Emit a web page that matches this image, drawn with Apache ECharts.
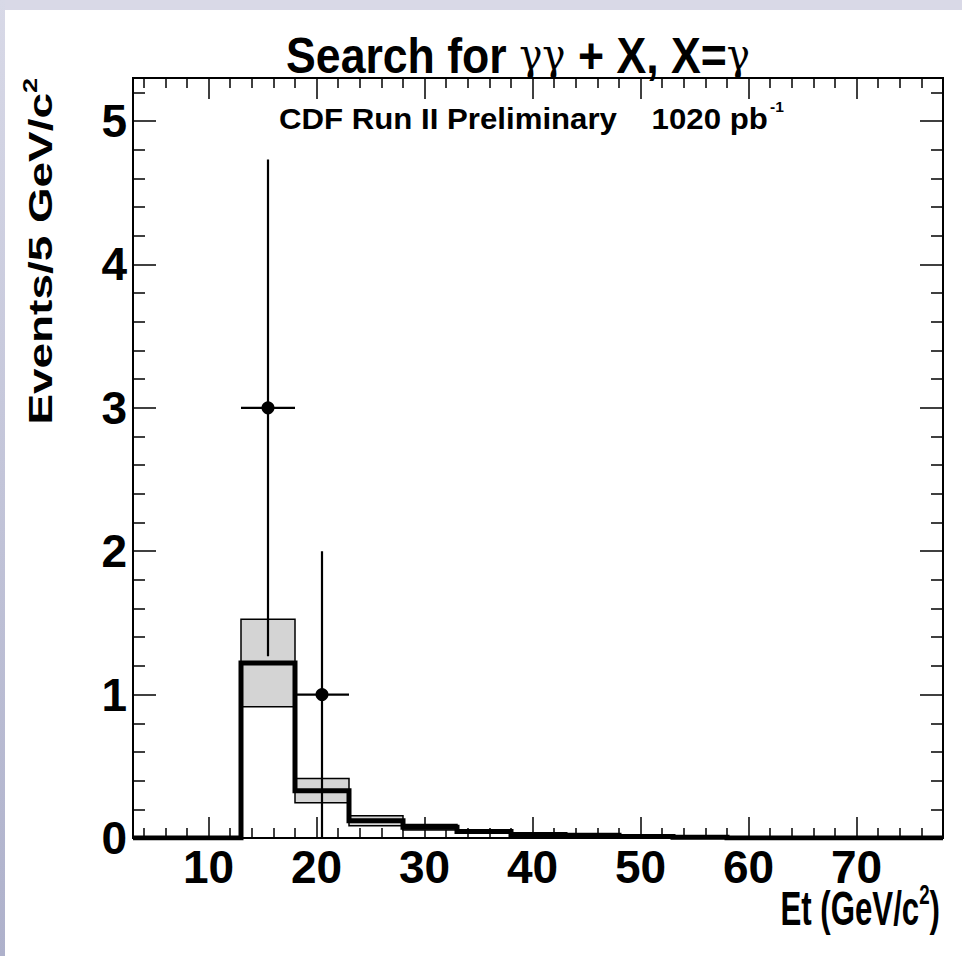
<!DOCTYPE html>
<html>
<head>
<meta charset="utf-8">
<script src="https://cdn.jsdelivr.net/npm/echarts@6/dist/echarts.min.js"></script>
<style>
html,body{margin:0;padding:0;background:#ffffff;}
#chart{width:962px;height:956px;}
</style>
</head>
<body>
<div id="chart"></div>
<script>
// ---- data ----
var binEdges = [3, 8, 13, 18, 23, 28, 33, 38, 43, 48, 53, 58, 63, 68, 73, 78];
var expected = [0, 0, 1.22, 0.33, 0.12, 0.075, 0.045, 0.025, 0.02, 0.01, 0.005, 0, 0, 0, 0];
var expectedErr = [0, 0, 0.305, 0.085, 0.035, 0.02, 0.01, 0.005, 0, 0, 0, 0, 0, 0, 0];
var dataX = [15.5, 20.5];
var dataY = [3, 1];
var dataErr = [1.732, 1];
var xMajorTicks = [10, 20, 30, 40, 50, 60, 70];
var yMajorTicks = [0, 1, 2, 3, 4, 5];

var X_MIN = 3, X_MAX = 78, Y_MIN = 0, Y_MAX = 5.3;
var xMinorTicks = [];
for (var v = 4; v < X_MAX; v += 2) { if (v % 10 !== 0) xMinorTicks.push(v); }
var yMinorTicks = [];
for (var k = 1; k <= 26; k++) { var t = Math.round(k * 2) / 10; if (Math.abs(t - Math.round(t)) > 1e-9) yMinorTicks.push(t); }

// histogram step line points
var stepData = binEdges.map(function (e, i) {
  return [e, i < expected.length ? expected[i] : expected[expected.length - 1]];
});
var bandData = expected.map(function (c, i) {
  return [binEdges[i], binEdges[i + 1], c, expectedErr[i]];
});
var pointData = dataX.map(function (x, i) {
  var hw = (binEdges[1] - binEdges[0]) / 2;
  return [x, dataY[i], dataErr[i], hw];
});

var chart = echarts.init(document.getElementById('chart'), null, { renderer: 'svg' });

var FONT = '"Liberation Sans", Arial, Helvetica, sans-serif';
var GRID = { left: 133, top: 78, right: 19, bottom: 118 };
var TICK_FONT = 46;

function mkX(pos, ticks, len, showLabel, showLine) {
  return {
    type: 'value', min: X_MIN, max: X_MAX, position: pos, gridIndex: 0,
    axisLine: { show: showLine, onZero: false, lineStyle: { color: '#000', width: 2 } },
    axisTick: { show: true, inside: true, length: len, customValues: ticks, lineStyle: { color: '#000', width: 1.5 } },
    axisLabel: showLabel ? { show: true, customValues: ticks, margin: 6, color: '#000', fontFamily: FONT, fontWeight: 'bold', fontSize: TICK_FONT } : { show: false },
    splitLine: { show: false }
  };
}
function mkY(pos, ticks, len, showLabel, showLine) {
  return {
    type: 'value', min: Y_MIN, max: Y_MAX, position: pos, gridIndex: 0,
    axisLine: { show: showLine, onZero: false, lineStyle: { color: '#000', width: 2 } },
    axisTick: { show: true, inside: true, length: len, customValues: ticks, lineStyle: { color: '#000', width: 1.5 } },
    axisLabel: showLabel ? { show: true, customValues: ticks, margin: 6, color: '#000', fontFamily: FONT, fontWeight: 'bold', fontSize: TICK_FONT } : { show: false },
    splitLine: { show: false }
  };
}

var option = {
  backgroundColor: '#ffffff',
  animation: false,
  grid: { left: GRID.left, top: GRID.top, right: GRID.right, bottom: GRID.bottom, show: true, borderColor: '#000', borderWidth: 2, backgroundColor: 'transparent' },
  xAxis: [
    mkX('bottom', xMajorTicks, 21, true, true),
    mkX('bottom', xMinorTicks, 10, false, false),
    mkX('top', xMajorTicks, 21, false, true),
    mkX('top', xMinorTicks, 10, false, false)
  ],
  yAxis: [
    mkY('left', yMajorTicks, 23, true, true),
    mkY('left', yMinorTicks, 12, false, false),
    mkY('right', yMajorTicks, 23, false, true),
    mkY('right', yMinorTicks, 12, false, false)
  ],
  graphic: [
    { type: 'rect', left: 0, top: 0, shape: { width: 962, height: 10 }, style: { fill: '#d9d9e7' }, z: 100 },
    { type: 'rect', left: 0, top: 0, shape: { width: 5, height: 956 },
      style: { fill: new echarts.graphic.LinearGradient(0, 0, 0, 1, [{ offset: 0, color: '#d8d9e7' }, { offset: 1, color: '#aeb1cb' }]) }, z: 100 },
    { type: 'text', x: 518, y: 55, z: 100, scaleX: 0.97, scaleY: 1.1,
      style: {
        text: '{b|Search for }{g|γγ}{b| + X, X=}{g|γ}',
        textAlign: 'center', textVerticalAlign: 'middle',
        rich: {
          b: { fontFamily: FONT, fontWeight: 'bold', fontSize: 46, color: '#000', fill: '#000' },
          g: { fontFamily: '"DejaVu Serif", "Liberation Serif", serif', fontWeight: 'normal', fontSize: 40, color: '#000', fill: '#000' }
        }
      } },
    { type: 'text', x: 279, y: 118, z: 100, scaleX: 1.04,
      style: {
        text: '{a|CDF Run II Preliminary    1020 pb}{s|-1}',
        textAlign: 'left', textVerticalAlign: 'middle',
        rich: {
          a: { fontFamily: FONT, fontWeight: 'bold', fontSize: 30, color: '#000', fill: '#000' },
          s: { fontFamily: FONT, fontWeight: 'bold', fontSize: 15, color: '#000', fill: '#000', verticalAlign: 'top', padding: [0, 0, 22, 2] }
        }
      } },
    { type: 'text', x: 940, y: 908, z: 100, scaleX: 0.78, scaleY: 1.18,
      style: {
        text: '{a|Et (GeV/c}{s|2}{a|)}',
        textAlign: 'right', textVerticalAlign: 'middle',
        rich: {
          a: { fontFamily: FONT, fontWeight: 'bold', fontSize: 40, color: '#000', fill: '#000' },
          s: { fontFamily: FONT, fontWeight: 'bold', fontSize: 24, color: '#000', fill: '#000', verticalAlign: 'top', padding: [0, 0, 24, 0] }
        }
      } },
    { type: 'text', x: 40, y: 78, rotation: Math.PI / 2, z: 100, scaleX: 1.35,
      style: {
        text: '{a|Events/5 GeV/c}{s|2}',
        textAlign: 'right', textVerticalAlign: 'middle',
        rich: {
          a: { fontFamily: FONT, fontWeight: 'bold', fontSize: 34, color: '#000', fill: '#000' },
          s: { fontFamily: FONT, fontWeight: 'bold', fontSize: 20, color: '#000', fill: '#000', verticalAlign: 'top', padding: [0, 0, 20, 0] }
        }
      } }
  ],
  series: [
    {
      type: 'custom', name: 'band', xAxisIndex: 0, yAxisIndex: 0, z: 2,
      data: bandData,
      renderItem: function (params, api) {
        var lo = api.value(0), hi = api.value(1), c = api.value(2), e = api.value(3);
        if (!(e > 0)) return null;
        var p1 = api.coord([lo, c + e]);
        var p2 = api.coord([hi, c - e]);
        return {
          type: 'rect',
          shape: { x: p1[0], y: p1[1], width: p2[0] - p1[0], height: p2[1] - p1[1] },
          style: { fill: '#d4d4d4', stroke: '#000', lineWidth: 1.5 }
        };
      }
    },
    {
      type: 'line', name: 'expected', xAxisIndex: 0, yAxisIndex: 0, z: 3,
      step: 'end', symbol: 'none', data: stepData,
      lineStyle: { color: '#000', width: 5, join: 'miter' }
    },
    {
      type: 'custom', name: 'data', xAxisIndex: 0, yAxisIndex: 0, z: 4,
      data: pointData,
      renderItem: function (params, api) {
        var x = api.value(0), y = api.value(1), e = api.value(2), hw = api.value(3);
        var c = api.coord([x, y]);
        var top = api.coord([x, y + e]);
        var bot = api.coord([x, Math.max(y - e, 0)]);
        var l = api.coord([x - hw, y]);
        var r = api.coord([x + hw, y]);
        var st = { stroke: '#000', lineWidth: 2.2 };
        return {
          type: 'group',
          children: [
            { type: 'line', shape: { x1: top[0], y1: top[1], x2: bot[0], y2: bot[1] }, style: st },
            { type: 'line', shape: { x1: l[0], y1: l[1], x2: r[0], y2: r[1] }, style: st },
            { type: 'circle', shape: { cx: c[0], cy: c[1], r: 6.5 }, style: { fill: '#000' } }
          ]
        };
      }
    }
  ]
};
chart.setOption(option);
</script>
</body>
</html>
